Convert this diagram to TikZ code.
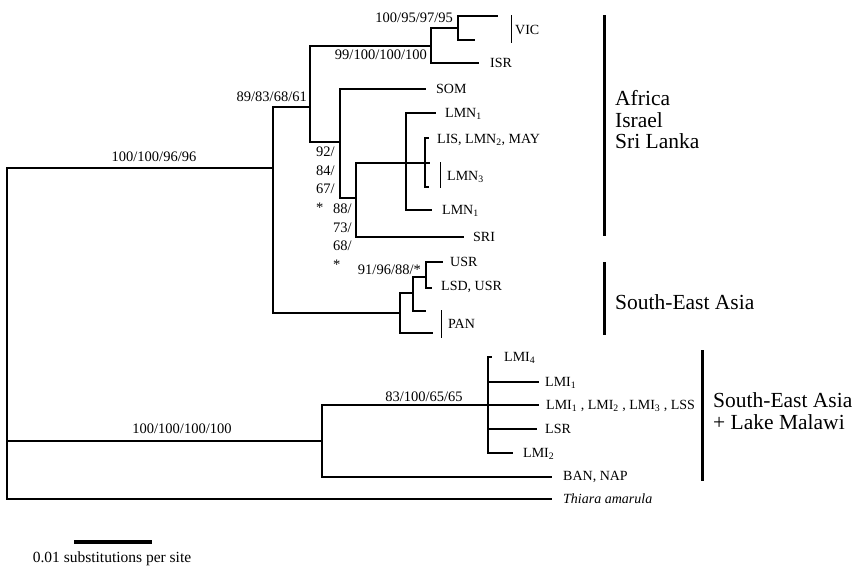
\documentclass[tikz,border=0pt]{standalone}
\usepackage{fontspec}
\setmainfont{Liberation Serif}
\begin{document}
\begin{tikzpicture}[x=1pt,y=-1pt,
branch/.style={line width=1.5pt},
lbl/.style={anchor=west,inner sep=0pt,font=\fontsize{14}{16}\selectfont},
supp/.style={inner sep=0pt,font=\fontsize{14.5}{18.7}\selectfont},
grp/.style={anchor=west,inner sep=0pt,align=left,font=\fontsize{21.5}{21.5}\selectfont},
cladebar/.style={line width=3pt},
tiebar/.style={line width=0.8pt}]
\useasboundingbox (0,0) rectangle (856,570);
\coordinate (root) at (7,300);
\coordinate (nAS) at (273,168);
\coordinate (nAf) at (310,107);
\coordinate (nVI) at (431,46);
\coordinate (nV) at (458,28);
\coordinate (vic1) at (498,16);
\coordinate (vic2) at (475,40);
\coordinate (isr) at (479,63);
\coordinate (nSO) at (340,142);
\coordinate (som) at (426,89);
\coordinate (nLS) at (356,198);
\coordinate (nLM) at (406,163);
\coordinate (lmnA) at (436,113);
\coordinate (nLI) at (425,163);
\coordinate (lis1) at (429,138);
\coordinate (lis2) at (430,163);
\coordinate (lis3) at (429,187);
\coordinate (lmnB) at (432,210);
\coordinate (sri) at (464,237);
\coordinate (nSE) at (400,313);
\coordinate (nUS) at (413,293);
\coordinate (nU) at (426,277);
\coordinate (usr) at (443,262);
\coordinate (lsd) at (432,288);
\coordinate (pan1) at (426,311);
\coordinate (pan2) at (433,333);
\coordinate (nLK) at (322,441);
\coordinate (nLMI) at (488,405);
\coordinate (lmi4) at (492,357);
\coordinate (lmi1) at (539,382);
\coordinate (lmiX) at (539,405);
\coordinate (lsr) at (537,429);
\coordinate (lmi2) at (513,453);
\coordinate (ban) at (552,477);
\coordinate (thi) at (552,499);
\draw[branch] (root)|-(nAS) (root)|-(nLK) (root)|-(thi);
\draw[branch] (nAS)|-(nAf) (nAS)|-(nSE);
\draw[branch] (nAf)|-(nVI) (nAf)|-(nSO);
\draw[branch] (nVI)|-(nV) (nVI)|-(isr) (nV)|-(vic1) (nV)|-(vic2);
\draw[branch] (nSO)|-(som) (nSO)|-(nLS);
\draw[branch] (nLS)|-(nLM) (nLS)|-(sri);
\draw[branch] (nLM)|-(lmnA) (nLM)|-(nLI) (nLM)|-(lmnB);
\draw[branch] (nLI)|-(lis1) (nLI)|-(lis2) (nLI)|-(lis3);
\draw[branch] (nSE)|-(nUS) (nSE)|-(pan2) (nUS)|-(nU) (nUS)|-(pan1);
\draw[branch] (nU)|-(usr) (nU)|-(lsd);
\draw[branch] (nLK)|-(nLMI) (nLK)|-(ban);
\draw[branch] (nLMI)|-(lmi4) (nLMI)|-(lmi1) (nLMI)|-(lmiX) (nLMI)|-(lsr) (nLMI)|-(lmi2);
\node[supp] (s1) at (154,157) {100/100/96/96};
\node[supp,anchor=east] (s2) at (307,97) {89/83/68/61};
\node[supp,anchor=east] (s3) at (427,55) {99/100/100/100};
\node[supp,anchor=east] (s4) at (453,18) {100/95/97/95};
\node[supp,anchor=north west,align=left] (s5) at (316,146.5) {92/\\84/\\67/\\*};
\node[supp,anchor=north west,align=left] (s6) at (333,203.5) {88/\\73/\\68/\\*};
\node[supp,anchor=east] (s7) at (421,270) {91/96/88/*};
\node[supp] (s8) at (424,397) {83/100/65/65};
\node[supp] (s9) at (182,429) {100/100/100/100};
\draw[tiebar] (511,15)coordinate(vt)--(511,43)coordinate(vb);
\draw[tiebar] (440,162)coordinate(mt)--(440,188)coordinate(mb);
\draw[tiebar] (441,310)coordinate(pt)--(441,338)coordinate(pb);
\node[lbl] (tVIC) at (515,30) {VIC};
\node[lbl] (tISR) at (490,63) {ISR};
\node[lbl] (tSOM) at (436,89) {SOM};
\node[lbl] (tLMNa) at (445,114) {LMN\textsubscript{1}};
\node[lbl] (tLIS) at (437,140) {LIS, LMN\textsubscript{2}, MAY};
\node[lbl] (tLMN3) at (447,177) {LMN\textsubscript{3}};
\node[lbl] (tLMNb) at (442,211) {LMN\textsubscript{1}};
\node[lbl] (tSRI) at (473,237) {SRI};
\node[lbl] (tUSR) at (450,262) {USR};
\node[lbl] (tLSD) at (441,287) {LSD, USR};
\node[lbl] (tPAN) at (448,324) {PAN};
\node[lbl] (tLMI4) at (504,358) {LMI\textsubscript{4}};
\node[lbl] (tLMI1) at (545,383) {LMI\textsubscript{1}};
\node[lbl] (tLMIX) at (546,406) {LMI\textsubscript{1} , LMI\textsubscript{2} , LMI\textsubscript{3} , LSS};
\node[lbl] (tLSR) at (545,429) {LSR};
\node[lbl] (tLMI2) at (523,454) {LMI\textsubscript{2}};
\node[lbl] (tBAN) at (563,477) {BAN, NAP};
\node[lbl] (tThi) at (563,499) {\itshape Thiara amarula};
\draw[cladebar] (604,15)coordinate(g1t)--(604,236)coordinate(g1b);
\draw[cladebar] (604,262)coordinate(g2t)--(604,335)coordinate(g2b);
\draw[cladebar] (702,350)coordinate(g3t)--(702,481)coordinate(g3b);
\node[grp] (gAf) at (615,120) {Africa\\Israel\\Sri Lanka};
\node[grp] (gSE) at (615,302) {South-East Asia};
\node[grp] (gLM) at (713,411) {South-East Asia\\+ Lake Malawi};
\draw[line width=4.5pt] (74,542)coordinate(sb1)--(152,542)coordinate(sb2);
\node[inner sep=0pt,font=\fontsize{15.5}{18}\selectfont] (tsb) at (112,559) {0.01 substitutions per site};
\end{tikzpicture}
\end{document}
